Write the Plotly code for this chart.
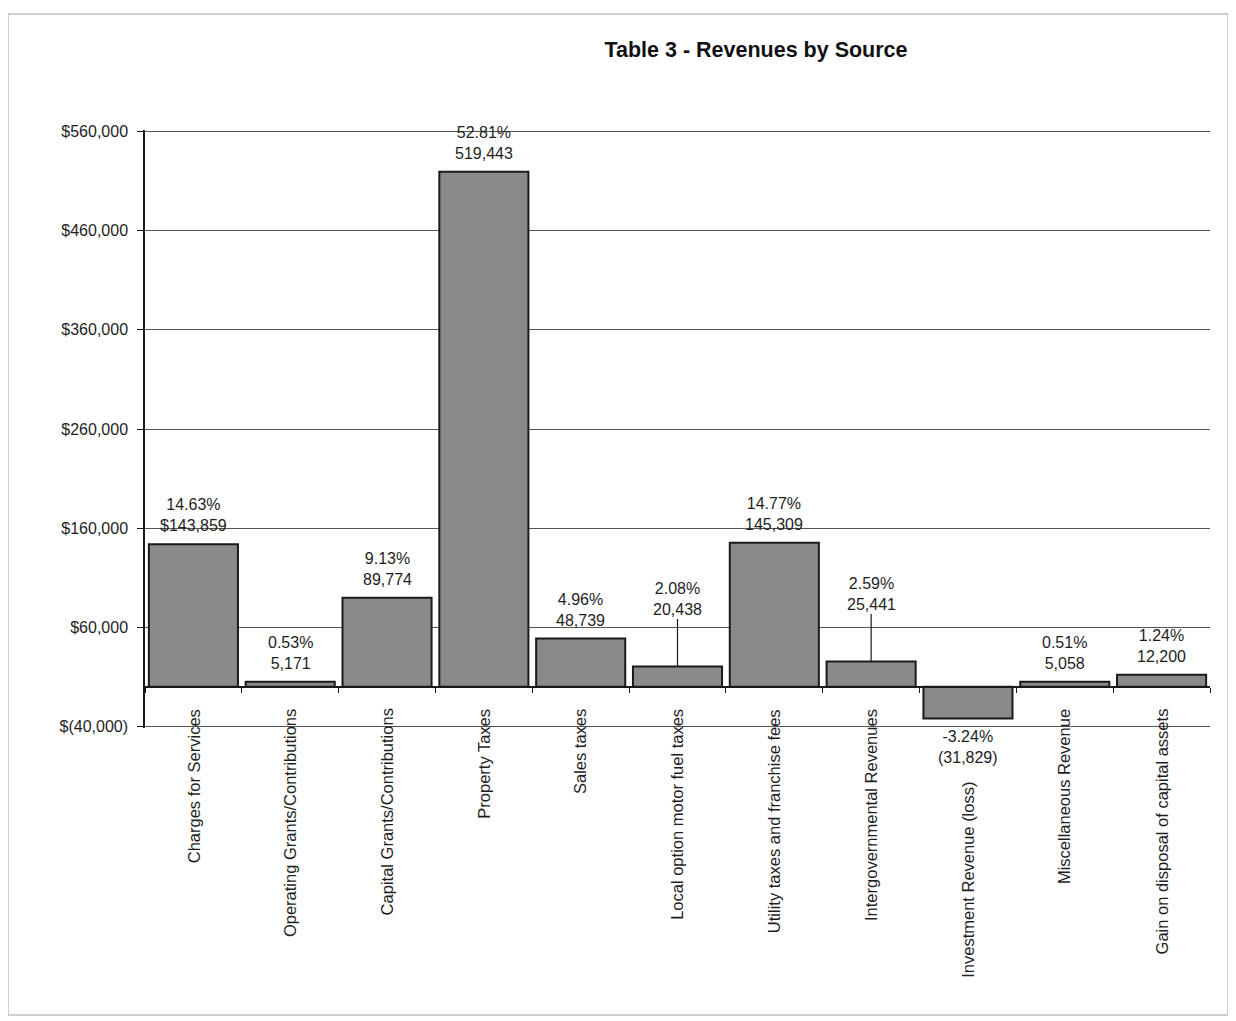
import plotly.graph_objects as go

categories = [
    "Charges for Services",
    "Operating Grants/Contributions",
    "Capital Grants/Contributions",
    "Property Taxes",
    "Sales taxes",
    "Local option motor fuel taxes",
    "Utility taxes and franchise fees",
    "Intergovernmental Revenues",
    "Investment Revenue (loss)",
    "Miscellaneous Revenue",
    "Gain on disposal of capital assets",
]
values = [143859, 5171, 89774, 519443, 48739, 20438, 145309, 25441, -31829, 5058, 12200]
percents = [14.63, 0.53, 9.13, 52.81, 4.96, 2.08, 14.77, 2.59, -3.24, 0.51, 1.24]
value_labels = ["$143,859", "5,171", "89,774", "519,443", "48,739", "20,438",
                "145,309", "25,441", "(31,829)", "5,058", "12,200"]

y_tickvals = [-40000, 60000, 160000, 260000, 360000, 460000, 560000]
y_ticktext = ["$(40,000)", "$60,000", "$160,000", "$260,000", "$360,000", "$460,000", "$560,000"]

FONT = "Liberation Sans, Arial, sans-serif"
TXT = "#1e1e1e"

fig = go.Figure()
fig.add_trace(go.Bar(
    x=categories,
    y=values,
    marker=dict(color="#8a8a8a", line=dict(color="#1a1a1a", width=2)),
    width=0.92,
    hoverinfo="x+y",
))

annotations = []
leader = {"Local option motor fuel taxes": -68, "Intergovernmental Revenues": -68}
for c, v, p, vl in zip(categories, values, percents, value_labels):
    text = f"{p:.2f}%<br>{vl}"
    if c in leader:
        annotations.append(dict(
            x=c, y=v, xref="x", yref="y", text=text, showarrow=True,
            arrowhead=0, arrowwidth=1.2, arrowcolor="#1a1a1a", ax=0, ay=leader[c],
            standoff=0, startstandoff=0,
            font=dict(family=FONT, size=16, color=TXT),
        ))
    elif v < 0:
        annotations.append(dict(
            x=c, y=v, xref="x", yref="y", text=text, showarrow=False,
            yanchor="top", yshift=-8,
            font=dict(family=FONT, size=16, color=TXT),
        ))
    else:
        annotations.append(dict(
            x=c, y=v, xref="x", yref="y", text=text, showarrow=False,
            yanchor="bottom", yshift=8,
            font=dict(family=FONT, size=16, color=TXT),
        ))

for c, v in zip(categories, values):
    shift = -20 if v >= 0 else -93
    annotations.append(dict(
        x=c, y=0, xref="x", yref="y", text=c, showarrow=False,
        textangle=-90, yanchor="top", xanchor="center", yshift=shift,
        font=dict(family=FONT, size=16.5, color=TXT),
    ))

fig.update_layout(
    width=1236, height=1021,
    margin=dict(l=137, r=34, t=122, b=301),
    paper_bgcolor="white", plot_bgcolor="white",
    showlegend=False,
    bargap=0.08,
    title=dict(
        text="<b>Table 3 - Revenues by Source</b>",
        x=748 / 1236, xanchor="center", xref="container",
        y=1 - 41 / 1021, yanchor="middle",
        font=dict(family=FONT, size=21.5, color="#111"),
    ),
    annotations=annotations,
    shapes=[dict(
        type="rect", xref="paper", yref="paper",
        x0=(8 - 145) / 1065, x1=(1228 - 145) / 1065,
        y0=(728 - 1015) / 598, y1=(728 - 14) / 598,
        line=dict(color="#a0a0a0", width=1), fillcolor="rgba(0,0,0,0)", layer="below",
    )],
)

fig.update_yaxes(
    range=[-41500, 561500],
    tickvals=y_tickvals, ticktext=y_ticktext,
    showgrid=True, gridcolor="#555555", gridwidth=1,
    zeroline=False,
    showline=True, linecolor="#1a1a1a", linewidth=1.5,
    ticks="outside", ticklen=6, tickcolor="#1a1a1a",
    tickfont=dict(family=FONT, size=16, color=TXT),
    ticklabelstandoff=6,
)
fig.update_xaxes(
    type="category",
    anchor="free", position=41500 / 603000,
    showline=True, linecolor="#1a1a1a", linewidth=1.5,
    ticks="outside", ticklen=5, tickcolor="#1a1a1a", tickson="boundaries",
    showticklabels=False, showgrid=False,
)

fig.write_html("out.html")
